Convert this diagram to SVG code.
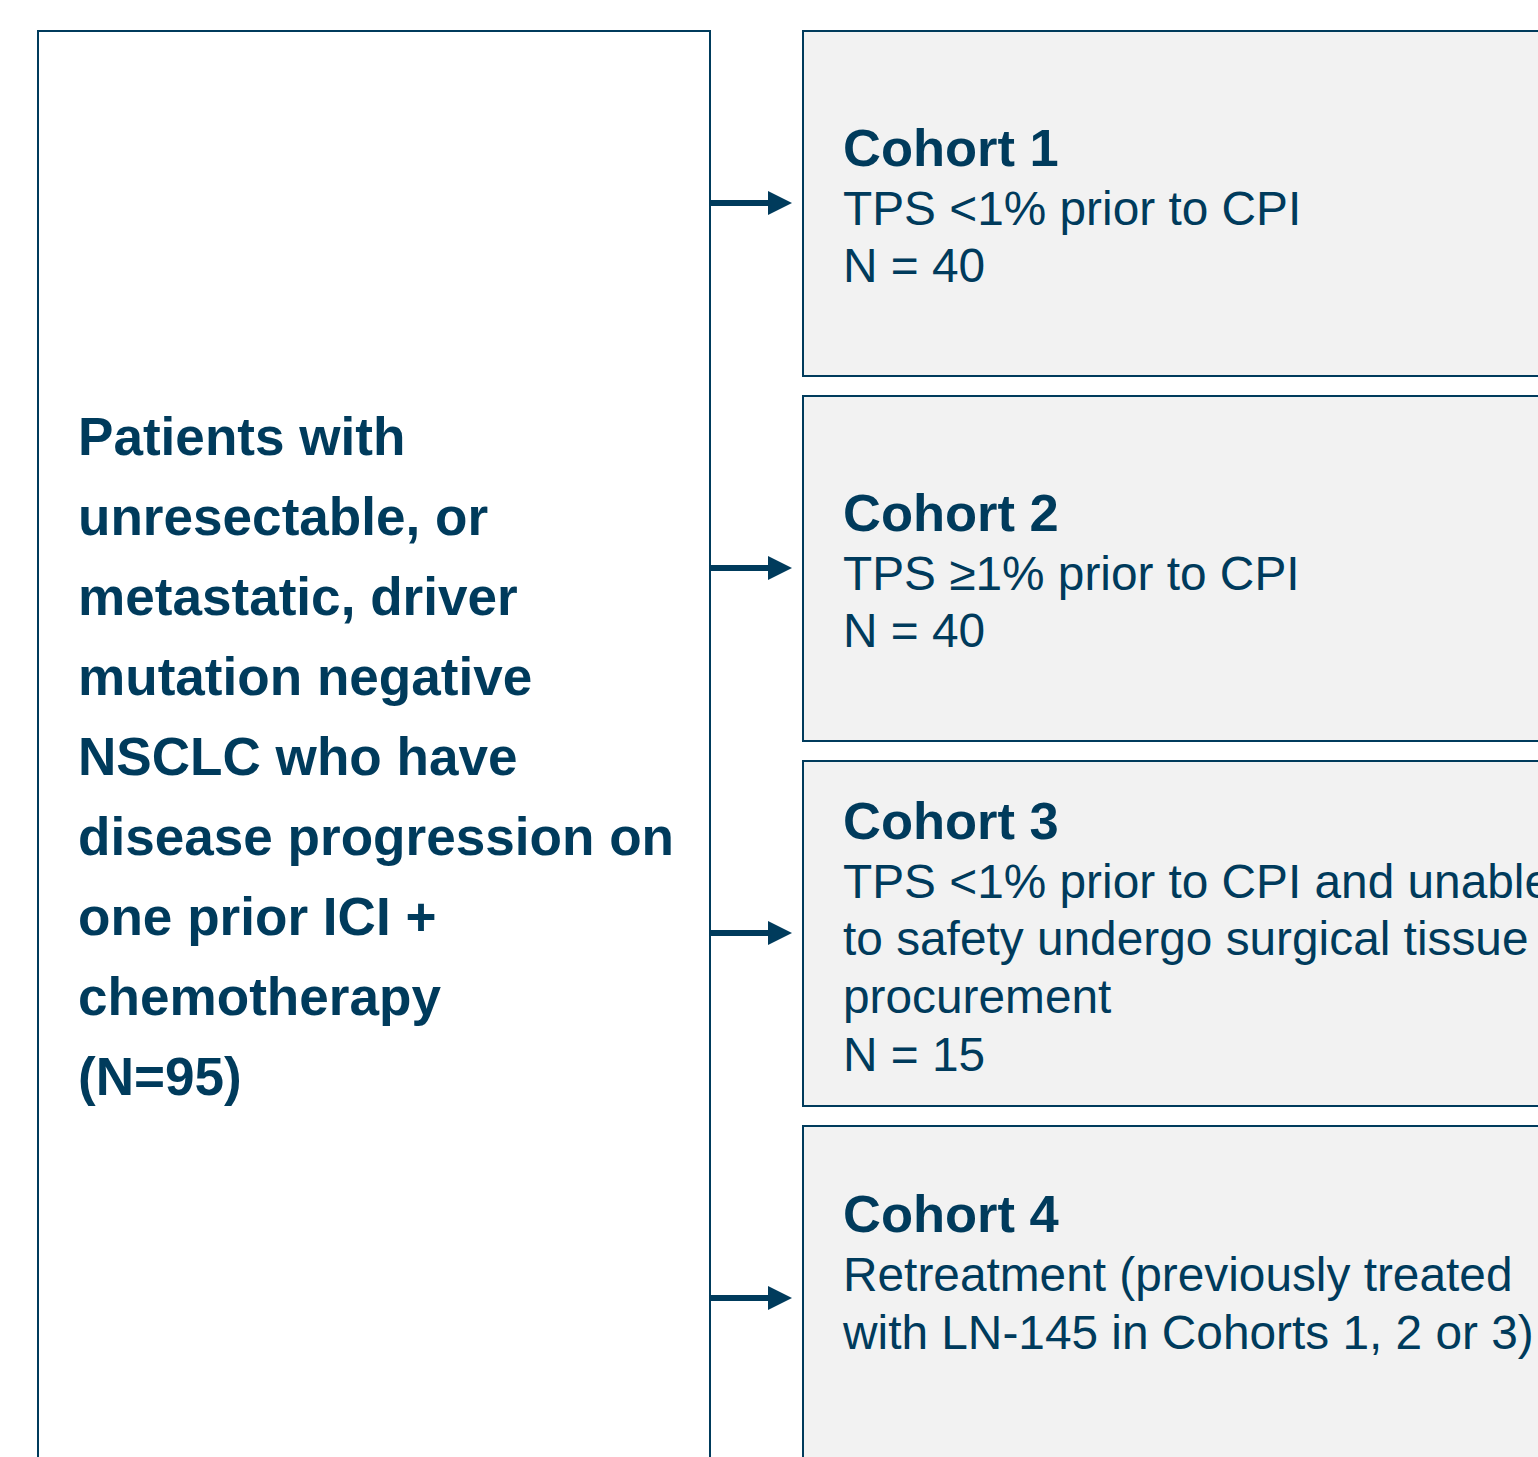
<svg xmlns="http://www.w3.org/2000/svg" width="1538" height="1457" viewBox="0 0 1538 1457">
<defs>
<style>
.box{fill:#F2F2F2;stroke:#003B5C;stroke-width:2}
.main{fill:#FFFFFF;stroke:#003B5C;stroke-width:2}
.t{font-family:"Liberation Sans",Arial,sans-serif;fill:#003B5C}
.h{font-size:52.5px;font-weight:bold}
.r{font-size:47.8px}
.l{font-size:53.1px;font-weight:bold}
.conn{stroke:#003B5C;stroke-width:6;fill:none}
.head{fill:#003B5C}
</style>
</defs>
<rect width="1538" height="1457" fill="#FFFFFF"/>
<g id="population">
<rect class="main" x="38" y="31" width="672" height="1460"/>
<text class="t l" x="78">
<tspan x="78" y="455">Patients with</tspan>
<tspan x="78" y="535">unresectable, or</tspan>
<tspan x="78" y="615">metastatic, driver</tspan>
<tspan x="78" y="695">mutation negative</tspan>
<tspan x="78" y="775">NSCLC who have</tspan>
<tspan x="78" y="855">disease progression on</tspan>
<tspan x="78" y="935">one prior ICI +</tspan>
<tspan x="78" y="1015">chemotherapy</tspan>
<tspan x="78" y="1095">(N=95)</tspan>
</text>
</g>
<g id="cohort1">
<rect class="box" x="803" y="31" width="760" height="345"/>
<text class="t h" x="843" y="166">Cohort 1</text>
<text class="t r" x="843" y="225">TPS &lt;1% prior to CPI</text>
<text class="t r" x="843" y="282">N = 40</text>
</g>
<g id="cohort2">
<rect class="box" x="803" y="396" width="760" height="345"/>
<text class="t h" x="843" y="531">Cohort 2</text>
<text class="t r" x="843" y="590">TPS ≥1% prior to CPI</text>
<text class="t r" x="843" y="647">N = 40</text>
</g>
<g id="cohort3">
<rect class="box" x="803" y="761" width="760" height="345"/>
<text class="t h" x="843" y="839">Cohort 3</text>
<text class="t r" x="843" y="898">TPS &lt;1% prior to CPI and unable</text>
<text class="t r" x="843" y="955">to safety undergo surgical tissue</text>
<text class="t r" x="843" y="1013">procurement</text>
<text class="t r" x="843" y="1071">N = 15</text>
</g>
<g id="cohort4">
<rect class="box" x="803" y="1126" width="760" height="360"/>
<text class="t h" x="843" y="1232">Cohort 4</text>
<text class="t r" x="843" y="1291">Retreatment (previously treated</text>
<text class="t r" x="843" y="1349">with LN-145 in Cohorts 1, 2 or 3)</text>
</g>
<g id="connectors">
<line class="conn" x1="711" y1="203" x2="771" y2="203"/>
<polygon class="head" points="768,191 792,203 768,215"/>
<line class="conn" x1="711" y1="568" x2="771" y2="568"/>
<polygon class="head" points="768,556 792,568 768,580"/>
<line class="conn" x1="711" y1="933" x2="771" y2="933"/>
<polygon class="head" points="768,921 792,933 768,945"/>
<line class="conn" x1="711" y1="1298" x2="771" y2="1298"/>
<polygon class="head" points="768,1286 792,1298 768,1310"/>
</g>
</svg>
